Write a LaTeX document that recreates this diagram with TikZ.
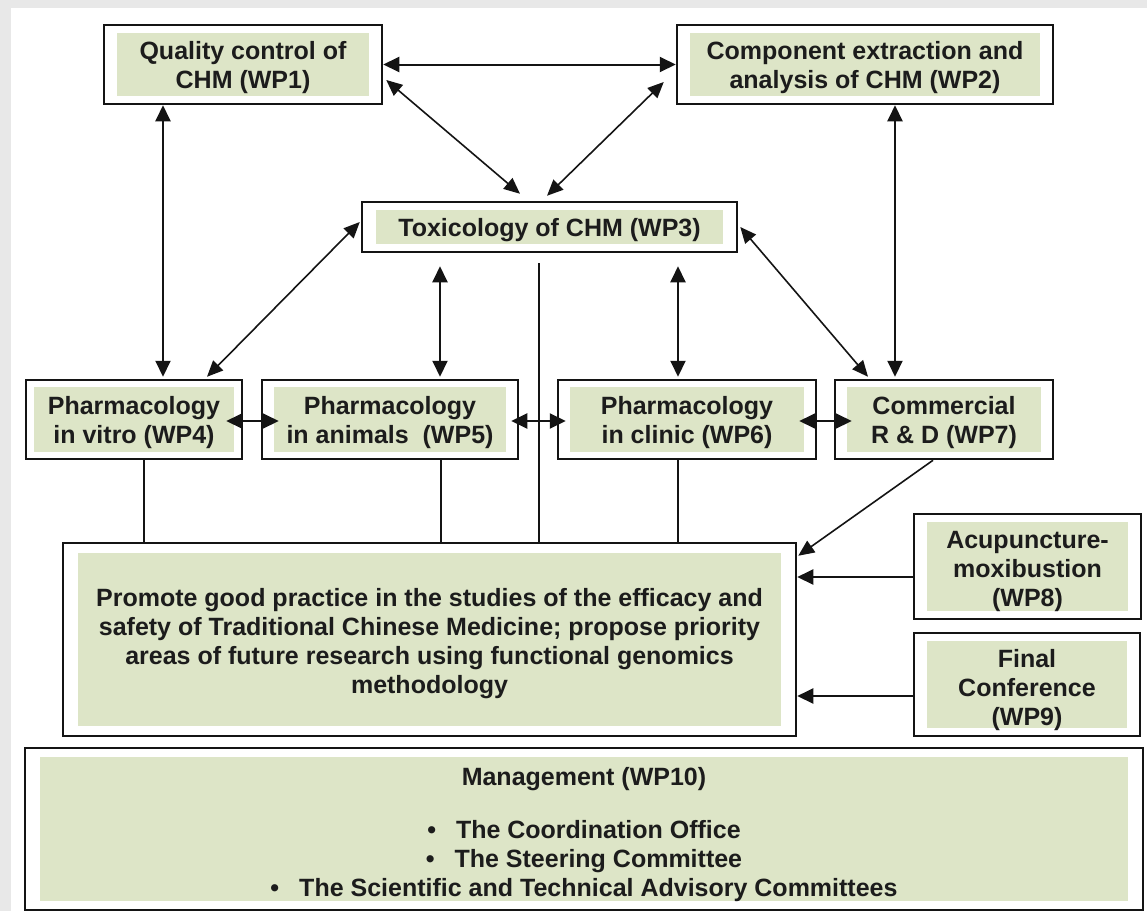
\documentclass[tikz,border=0pt]{standalone}
\usepackage{fontspec}
\setmainfont{Liberation Sans}
\usetikzlibrary{arrows.meta,calc}
\definecolor{gfill}{RGB}{221,229,199}
\definecolor{bgray}{RGB}{232,232,232}
\definecolor{txt}{RGB}{28,28,28}
\definecolor{lin}{RGB}{20,20,20}
\newcommand\tstrut[1]{\rule{0pt}{#1pt}}
\tikzset{
  wpbox/.style n args={4}{draw=lin, line width=2.5pt, fill=white, inner sep=0pt,
    minimum width=#1, minimum height=#2, align=center,
    font=\fontsize{25}{29}\selectfont\bfseries, text=txt,
    path picture={\fill[gfill] ([xshift=#3,yshift=-#4]path picture bounding box.north west)
       rectangle ([xshift=-#3,yshift=#4]path picture bounding box.south east);}},
  dbl/.style={{Triangle[length=16pt,width=15pt]}-{Triangle[length=16pt,width=15pt]}, line width=2pt, draw=lin},
  ddiag/.style={{Triangle[length=16pt,width=14pt]}-{Triangle[length=16pt,width=14pt]}, line width=1.6pt, draw=lin},
  sarr/.style={-{Triangle[length=16pt,width=15pt]}, line width=2pt, draw=lin},
  sdiag/.style={-{Triangle[length=16pt,width=14pt]}, line width=1.6pt, draw=lin},
  plain/.style={line width=2pt, draw=lin}
}
\begin{document}
\begin{tikzpicture}[x=1pt,y=-1pt]
\useasboundingbox (0,0) rectangle (1147,911);
\fill[bgray] (0,0) rectangle (1147,911);
\fill[white] (11,8) rectangle (1147,911);

% boxes
\node[wpbox={278pt}{79pt}{13pt}{8pt}] (wp1) at (243,64.5) {\tstrut{25}Quality control of\\CHM (WP1)};
\node[wpbox={376pt}{79pt}{13pt}{8pt}] (wp2) at (865,64.5) {\tstrut{25}Component extraction and\\analysis of CHM (WP2)};
\node[wpbox={375pt}{50pt}{14pt}{8pt}] (wp3) at (549.5,227) {\tstrut{25}Toxicology of CHM (WP3)};
\node[wpbox={216pt}{79pt}{8pt}{7pt}] (wp4) at (134,419.5) {\tstrut{25}Pharmacology\\in vitro (WP4)};
\node[wpbox={256pt}{79pt}{12pt}{7pt}] (wp5) at (390,419.5) {\tstrut{25}Pharmacology\\in animals\ \ (WP5)};
\node[wpbox={258pt}{79pt}{12pt}{7pt}] (wp6) at (687,419.5) {\tstrut{25}Pharmacology\\in clinic (WP6)};
\node[wpbox={218pt}{79pt}{12pt}{7pt}] (wp7) at (944,419.5) {\tstrut{25}Commercial\\R \& D (WP7)};
\node[wpbox={733pt}{193pt}{15pt}{10pt}] (prom) at (429.5,639.5) {\tstrut{27}Promote good practice in the studies of the efficacy and\\safety of Traditional Chinese Medicine; propose priority\\areas of future research using functional genomics\\methodology};
\node[wpbox={227pt}{105pt}{13pt}{8pt}] (wp8) at (1027.5,566.5) {\tstrut{27}Acupuncture-\\moxibustion\\(WP8)};
\node[wpbox={226pt}{103pt}{13pt}{8pt}] (wp9) at (1027,684.5) {\tstrut{29}Final\\Conference\\(WP9)};
\node[wpbox={1118pt}{162pt}{15pt}{9pt}] (mgmt) at (584,829) {\tstrut{30}Management (WP10)\\[24pt]\textbullet\hspace{0.8em}The Coordination Office\\\textbullet\hspace{0.8em}The Steering Committee\\\textbullet\hspace{0.8em}The Scientific and Technical Advisory Committees};

% top connectors
\draw[dbl] (wp1.east) -- (wp2.west);
\draw[ddiag] ([xshift=3pt,yshift=-15.5pt]wp1.east) -- ([xshift=-29.5pt,yshift=7pt]wp3.north);
\draw[ddiag] ([xshift=-12pt,yshift=-17.5pt]wp2.west) -- ([xshift=-2.5pt,yshift=5pt]wp3.north);
\draw[dbl] ([xshift=-80pt]wp1.south) -- ([xshift=29pt,yshift=2pt]wp4.north);
\draw[dbl] ([xshift=30pt]wp2.south) -- ([xshift=-49pt,yshift=2pt]wp7.north);

% WP3 connectors
\draw[ddiag] ([xshift=-1pt,yshift=5pt]wp3.west) -- ([xshift=73pt,yshift=2pt]wp4.north);
\draw[dbl] ([xshift=-109.5pt,yshift=-13pt]wp3.south) -- ([xshift=50pt,yshift=2pt]wp5.north);
\draw[dbl] ([xshift=128.5pt,yshift=-13pt]wp3.south) -- ([xshift=-9pt,yshift=2pt]wp6.north);
\draw[ddiag] ([xshift=2pt]wp3.east) -- ([xshift=-76pt,yshift=2pt]wp7.north);

% lines down to promote box
\coordinate (d3) at ([xshift=-10.5pt,yshift=-10pt]wp3.south);
\coordinate (d4) at ([xshift=10pt]wp4.south);
\coordinate (d5) at ([xshift=51pt]wp5.south);
\coordinate (d6) at ([xshift=-9pt]wp6.south);
\draw[plain] (d3) -- (d3 |- prom.north);
\draw[plain] (d4) -- (d4 |- prom.north);
\draw[plain] (d5) -- (d5 |- prom.north);
\draw[plain] (d6) -- (d6 |- prom.north);

% row arrows
\draw[dbl] ([xshift=-17pt,yshift=-1.5pt]wp4.east) -- ([xshift=18pt,yshift=-1.5pt]wp5.west);
\draw[dbl] ([xshift=-8pt,yshift=-1.5pt]wp5.east) -- ([xshift=9pt,yshift=-1.5pt]wp6.west);
\draw[dbl] ([xshift=-18pt,yshift=-1.5pt]wp6.east) -- ([xshift=18pt,yshift=-1.5pt]wp7.west);

% into promote box
\draw[sdiag] ([xshift=-11pt]wp7.south) -- ([xshift=1pt,yshift=-14pt]prom.north east);
\coordinate (a8) at ([yshift=-10.5pt]wp8.west);
\coordinate (a9) at ([yshift=-11.5pt]wp9.west);
\draw[sarr] (a8) -- (a8 -| prom.east);
\draw[sarr] (a9) -- (a9 -| prom.east);
\end{tikzpicture}
\end{document}
